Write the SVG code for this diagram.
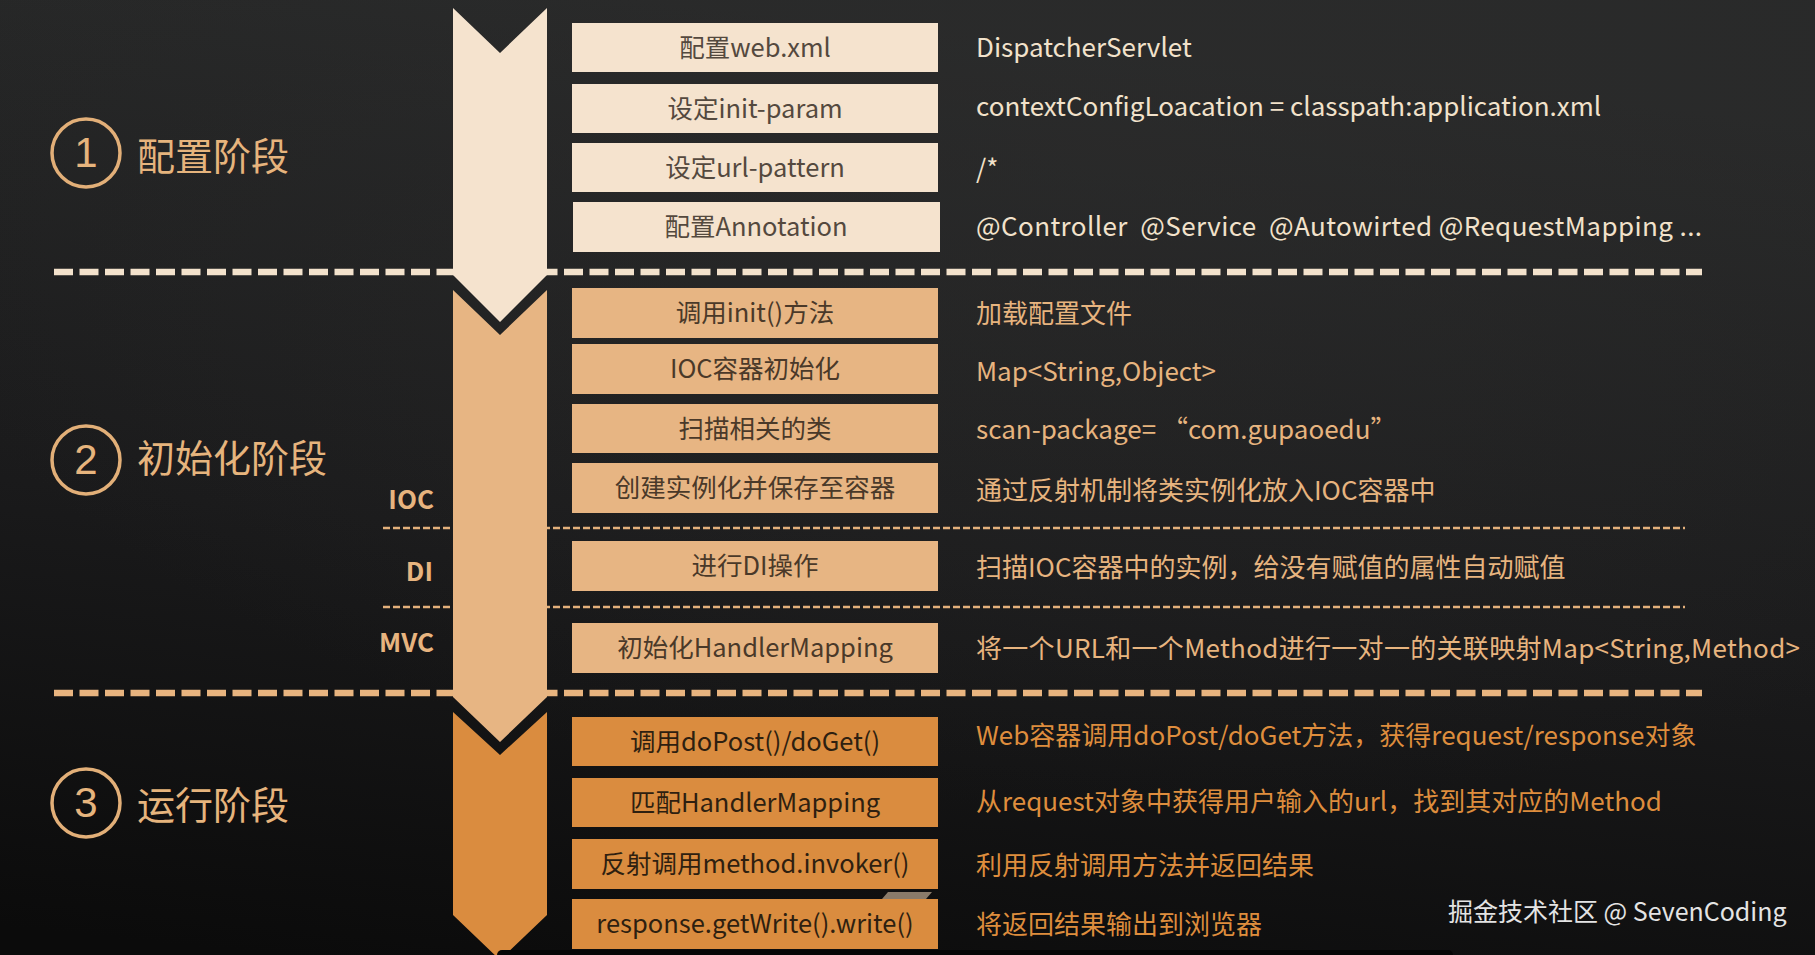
<svg xmlns="http://www.w3.org/2000/svg" width="1815" height="955" viewBox="0 0 1815 955">
<defs>
<linearGradient id="bg" x1="0.35" y1="0" x2="0.15" y2="1">
<stop offset="0" stop-color="#282929"/>
<stop offset="0.55" stop-color="#1a1a1b"/>
<stop offset="1" stop-color="#0b0b0b"/>
</linearGradient>
<radialGradient id="glow" cx="0.62" cy="0.15" r="0.7">
<stop offset="0" stop-color="#2c2c2c" stop-opacity="0.6"/>
<stop offset="1" stop-color="#2c2c2c" stop-opacity="0"/>
</radialGradient>
</defs>
<style>
text{font-family:"Noto Sans CJK SC","Liberation Sans",sans-serif;}
.stage{fill:#E6B47D;font-size:38px;dominant-baseline:central;}
.num{fill:#E6B47D;font-family:"Liberation Sans","Noto Sans CJK SC",sans-serif;font-size:42px;text-anchor:middle;dominant-baseline:central;}
.ring{fill:none;stroke:#E2AF78;stroke-width:3.5;}
.b1{fill:#F5E3CE;}
.b2{fill:#E7B583;}
.b3{fill:#DA8C3F;}
.bt{font-size:25.5px;text-anchor:middle;dominant-baseline:central;}
.t1{fill:#54493E;}
.t2{fill:#4A3929;}
.t3{fill:#2E1F10;}
.rt{font-size:26px;dominant-baseline:central;}
.r1{fill:#F2E2CB;}
.r2{fill:#E7B47F;}
.r3{fill:#DE8D3D;}
.side{fill:#E7B47F;font-size:26px;font-weight:bold;text-anchor:end;dominant-baseline:central;}
.thick1{stroke:#F3E2CC;stroke-width:6.5;stroke-dasharray:19 6.5;fill:none;}
.thick2{stroke:#E8B47F;stroke-width:6.5;stroke-dasharray:19 6.5;fill:none;}
.thin{stroke:#E3B07B;stroke-width:2.5;stroke-dasharray:7 3;fill:none;}
</style>
<rect x="0" y="0" width="1815" height="955" fill="url(#bg)"/>
<rect x="0" y="0" width="1815" height="955" fill="url(#glow)"/>

<g id="separators">
<line class="thick1" x1="54" y1="272" x2="1702" y2="272"/>
<line class="thick2" x1="54" y1="693" x2="1702" y2="693"/>
<line class="thin" x1="383" y1="528" x2="1685" y2="528"/>
<line class="thin" x1="383" y1="607" x2="1685" y2="607"/>
</g>

<g id="flow-arrows">
<polygon fill="#F5E3CE" points="453,8 500,53 547,8 547,275 500,322 453,275"/>
<polygon fill="#E7B583" points="453,290 500,335 547,290 547,697 500,742 453,697"/>
<polygon fill="#DA8C3F" points="453,712 500,755 547,712 547,915 500,960 453,915"/>
</g>

<g id="stage1">
<circle class="ring" cx="86" cy="153" r="34"/>
<text class="num" x="86" y="152">1</text>
<text class="stage" x="137" y="153.5">配置阶段</text>
</g>
<g id="stage2">
<circle class="ring" cx="86" cy="460" r="34"/>
<text class="num" x="86" y="459">2</text>
<text class="stage" x="137" y="455.5">初始化阶段</text>
</g>
<g id="stage3">
<circle class="ring" cx="86" cy="803" r="34"/>
<text class="num" x="86" y="802">3</text>
<text class="stage" x="137" y="802">运行阶段</text>
</g>

<g id="label-ioc"><text class="side" x="434" y="497">IOC</text></g>
<g id="label-di"><text class="side" x="433" y="569">DI</text></g>
<g id="label-mvc"><text class="side" x="434" y="640">MVC</text></g>

<g id="n1"><rect class="b1" x="572" y="23" width="366" height="49"/><text class="bt t1" x="755" y="45">配置web.xml</text><text class="rt r1" x="976" y="45">DispatcherServlet</text></g>
<g id="n2"><rect class="b1" x="572" y="84" width="366" height="49"/><text class="bt t1" x="755" y="106">设定init-param</text><text class="rt r1" x="976" y="104">contextConfigLoacation = classpath:application.xml</text></g>
<g id="n3"><rect class="b1" x="572" y="143" width="366" height="49"/><text class="bt t1" x="755" y="165">设定url-pattern</text><text class="rt r1" x="976" y="166.5">/*</text></g>
<g id="n4"><rect class="b1" x="573" y="202" width="367" height="50"/><text class="bt t1" x="756" y="224.5">配置Annotation</text><text class="rt r1" x="976" y="224.5" xml:space="preserve" textLength="726">@Controller  @Service  @Autowirted @RequestMapping ...</text></g>

<g id="n5"><rect class="b2" x="572" y="288" width="366" height="50"/><text class="bt t2" x="755" y="310.5">调用init()方法</text><text class="rt r2" x="976" y="311.5">加载配置文件</text></g>
<g id="n6"><rect class="b2" x="572" y="344" width="366" height="50"/><text class="bt t2" x="755" y="366.5">IOC容器初始化</text><text class="rt r2" x="976" y="369">Map&lt;String,Object&gt;</text></g>
<g id="n7"><rect class="b2" x="572" y="404" width="366" height="49"/><text class="bt t2" x="755" y="426">扫描相关的类</text><text class="rt r2" x="976" y="427">scan-package= “com.gupaoedu”</text></g>
<g id="n8"><rect class="b2" x="572" y="463" width="366" height="50"/><text class="bt t2" x="755" y="485.5">创建实例化并保存至容器</text><text class="rt r2" x="976" y="488.5">通过反射机制将类实例化放入IOC容器中</text></g>
<g id="n9"><rect class="b2" x="572" y="541" width="366" height="50"/><text class="bt t2" x="755" y="563.5">进行DI操作</text><text class="rt r2" x="976" y="565.5">扫描IOC容器中的实例，给没有赋值的属性自动赋值</text></g>
<g id="n10"><rect class="b2" x="572" y="623" width="366" height="50"/><text class="bt t2" x="755" y="645.5">初始化HandlerMapping</text><text class="rt r2" x="976" y="646.5" textLength="824">将一个URL和一个Method进行一对一的关联映射Map&lt;String,Method&gt;</text></g>

<g id="n11"><rect class="b3" x="572" y="717" width="366" height="49"/><text class="bt t3" x="755" y="739">调用doPost()/doGet()</text><text class="rt r3" x="976" y="733.5">Web容器调用doPost/doGet方法，获得request/response对象</text></g>
<g id="n12"><rect class="b3" x="572" y="778" width="366" height="49"/><text class="bt t3" x="755" y="800">匹配HandlerMapping</text><text class="rt r3" x="976" y="799.5">从request对象中获得用户输入的url，找到其对应的Method</text></g>
<g id="n13"><rect class="b3" x="572" y="839" width="366" height="50"/><text class="bt t3" x="755" y="861.5">反射调用method.invoker()</text><text class="rt r3" x="976" y="863.5">利用反射调用方法并返回结果</text></g>
<g id="n14"><rect class="b3" x="572" y="899" width="366" height="50"/><text class="bt t3" x="755" y="921.5">response.getWrite().write()</text><text class="rt r3" x="976" y="922.5">将返回结果输出到浏览器</text></g>

<polygon fill="#8A7B6A" points="888,892 932,892 926,899 882,899"/>
<rect x="497" y="950" width="956" height="10" rx="5" fill="#060606"/>

<g id="watermark"><text x="1448" y="909.5" font-size="25" fill="#E4E4E4" dominant-baseline="central">掘金技术社区 @ SevenCoding</text></g>
</svg>
